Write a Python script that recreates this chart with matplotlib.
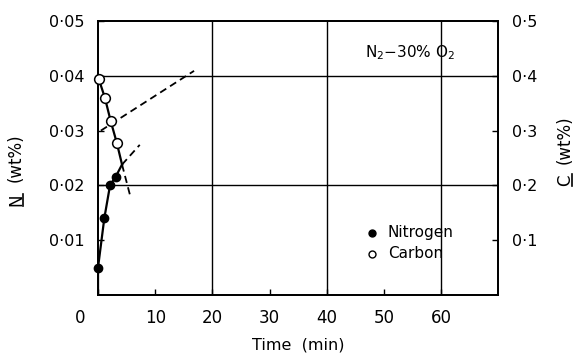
import matplotlib.pyplot as plt
from matplotlib.lines import Line2D

# nitrogen (left axis, wt%) and carbon (right axis, wt%) vs time in minutes
n_time = [0.0, 1.1, 2.1, 3.1]
n_wt = [0.005, 0.014, 0.020, 0.0216]
c_time = [0.1, 1.2, 2.2, 3.3]
c_wt = [0.395, 0.360, 0.318, 0.277]

# solid continuation to where the two curves cross
cross_time = 4.2
cross_n = 0.0238

# dashed extrapolations (nitrogen units)
dash_a_time = [0.5, 16.8]
dash_a_n = [0.0300, 0.0409]
dash_b_time = [cross_time, 7.3]
dash_b_n = [cross_n, 0.0274]
dash_c_time = [cross_time, 5.7]
dash_c_n = [cross_n, 0.0178]

x_ticks = [0, 10, 20, 30, 40, 50, 60]
n_ticks = [0.01, 0.02, 0.03, 0.04, 0.05]
n_labels = ["0·01", "0·02", "0·03", "0·04", "0·05"]
c_ticks = [0.1, 0.2, 0.3, 0.4, 0.5]
c_labels = ["0·1", "0·2", "0·3", "0·4", "0·5"]

plt.rcParams['font.family'] = ['DejaVu Sans']

W, H = 580, 354
fig = plt.figure(figsize=(W / 100, H / 100), dpi=100)
ax = fig.add_axes([0.169, 0.1667, 0.690, 0.774])
ax2 = ax.twinx()

ax.set_xlim(0, 70)
ax.set_ylim(0, 0.05)
ax2.set_ylim(0, 0.5)

for sp in ax.spines.values():
    sp.set_linewidth(1.3)
for sp in ax2.spines.values():
    sp.set_linewidth(1.3)

# grid lines
for x in [20, 40, 60]:
    ax.axvline(x, color='black', lw=1.0)
for y in [0.02, 0.04]:
    ax.axhline(y, color='black', lw=1.0)

ax.set_xticks(x_ticks)
# the zero label sits left of the corner, drawn separately below
ax.set_xticklabels([""] + [str(t) for t in x_ticks[1:]], fontsize=12)
ax.text(-3.2, -0.0026, "0", fontsize=12, ha='center', va='top')
ax.set_yticks(n_ticks)
ax.set_yticklabels(n_labels, fontsize=11.5)
ax2.set_yticks(c_ticks)
ax2.set_yticklabels(c_labels, fontsize=11.5)
ax.tick_params(direction='in', length=4, width=1, pad=10)
ax2.tick_params(direction='in', length=4, width=1, pad=10)

# dashed extrapolations
dash = dict(color='black', lw=1.3, ls=(0, (4, 2.5)))
ax.plot(dash_a_time, dash_a_n, **dash)
ax.plot(dash_b_time, dash_b_n, **dash)
ax.plot(dash_c_time, dash_c_n, **dash)

# solid curves
ax.plot([0.0] + n_time + [cross_time], [0.0] + n_wt + [cross_n],
        color='black', lw=1.6, zorder=3)
ax2.plot(c_time + [cross_time], c_wt + [cross_n * 10],
         color='black', lw=1.6, zorder=3)

ax.plot(n_time, n_wt, 'o', ms=6, mfc='black', mec='black', zorder=4,
        clip_on=False)
ax2.plot(c_time, c_wt, 'o', ms=7, mfc='white', mec='black', mew=1.1,
         zorder=4, clip_on=False)

# legend
ax.plot([48.0], [0.0114], 'o', ms=5, mfc='black', mec='black')
ax.plot([48.0], [0.0075], 'o', ms=5, mfc='white', mec='black', mew=1)
ax.text(50.7, 0.0114, "Nitrogen", fontsize=11, va='center')
ax.text(50.7, 0.0075, "Carbon", fontsize=11, va='center')

ax.text(54.6, 0.0442, "N$_2$$-$30% O$_2$", fontsize=11, va='center',
        ha='center')

ax.set_xlabel("Time  (min)", fontsize=11.5, labelpad=8)


# rotated axis titles with an underlined element symbol
def side_label(x, y_sym, y_unit, sym):
    fig.text(x / W, 1 - y_sym / H, sym, rotation=90, fontsize=12,
             ha='center', va='center')
    fig.text(x / W, 1 - y_unit / H, "(wt%)", rotation=90, fontsize=12,
             ha='center', va='center')
    fig.add_artist(Line2D([(x + 7) / W, (x + 7) / W],
                          [1 - (y_sym + 6) / H, 1 - (y_sym - 6) / H],
                          color='black', lw=1.2))


side_label(16, 200, 158, "N")
side_label(565, 180, 140, "C")

fig.savefig("out.png", dpi=100)
